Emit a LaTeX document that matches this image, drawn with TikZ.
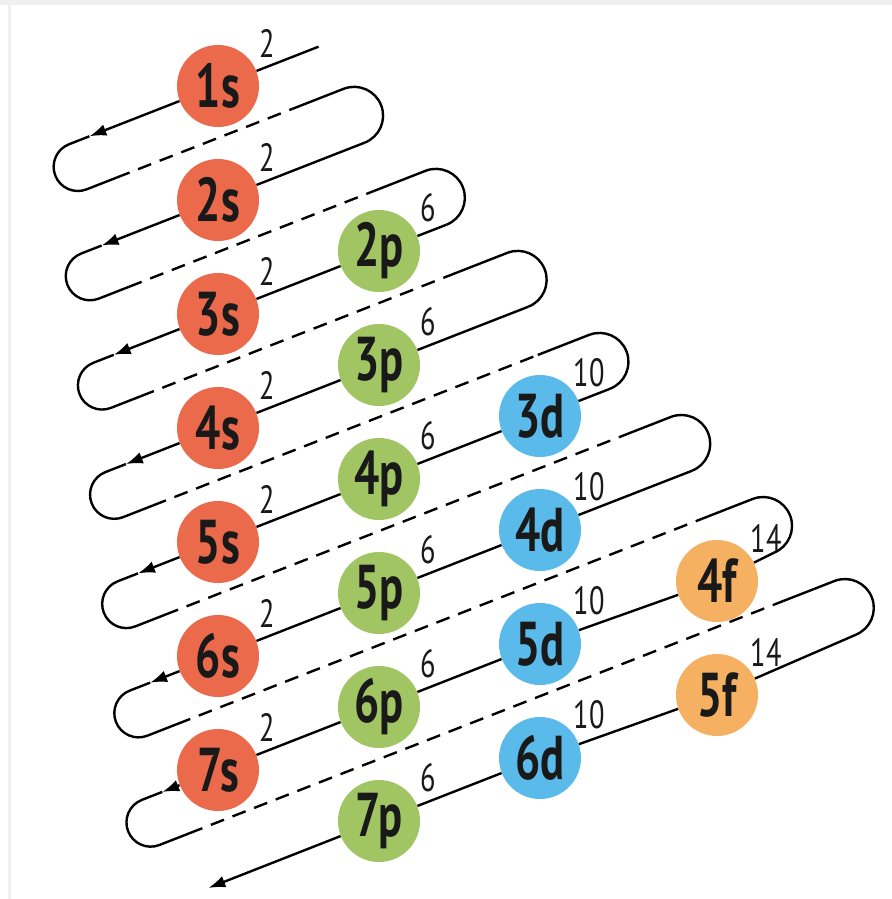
\documentclass[tikz,border=0pt]{standalone}
\usepackage{fontspec}
\usetikzlibrary{arrows.meta}
\newfontfamily\orbfont[FakeStretch=0.72]{PT Sans}
\definecolor{sorb}{HTML}{EC6A4C}
\definecolor{porb}{HTML}{A2C563}
\definecolor{dorb}{HTML}{5ABAE9}
\definecolor{forb}{HTML}{F5B062}

\begin{document}
\begin{tikzpicture}[
    x=0.025cm, y=0.025cm,
    orb/.style={circle, inner sep=0pt, minimum size=2.05cm, text=black!90,
        font=\orbfont\bfseries\fontsize{44}{44}\selectfont},
    occ/.style={anchor=center, label distance=0.6cm, text=black!90,
        font=\orbfont\fontsize{28}{28}\selectfont},
    wire/.style={line width=1.7pt, black},
    dashwire/.style={wire, dash pattern=on 10pt off 6.5pt},
    arrowline/.style={-{Latex[length=12pt,width=8.5pt]}}
]
    \useasboundingbox (0,0) rectangle (892,-899);
    \fill[black!6] (0,0) rectangle (892,-5);
    \fill[black!6] (8,-5) rectangle (11,-899);

    \foreach \nm/\x/\y/\c/\e in {1s/218/86/sorb/2, 2s/218/200/sorb/2, 3s/218/314/sorb/2,
        4s/218/428/sorb/2, 5s/218/542/sorb/2, 6s/218/656/sorb/2, 7s/218/770/sorb/2,
        2p/379/251/porb/6, 3p/379/365/porb/6, 4p/379/479/porb/6, 5p/379/593/porb/6,
        6p/379/707/porb/6, 7p/379/821/porb/6,
        3d/540/416/dorb/10, 4d/540/530/dorb/10, 5d/540/644/dorb/10, 6d/540/758/dorb/10,
        4f/717/581/forb/14, 5f/717/695/forb/14} {
        \node[orb, fill=\c, label={[occ]41:\e}] (\nm) at (\x,-\y) {\nm};
    }

    \begin{scope}[shift={(218,-86)}, rotate=21.36]
        \coordinate (e1) at (108,0);
        \coordinate (e8) at (-301,-743.4);
        \foreach \k in {1,...,7} {
            \pgfmathsetmacro\tline{-106.2*(\k-1)}
            \pgfmathsetmacro\tdash{\tline-48.4}
            \pgfmathsetmacro\tnext{\tline-106.2}
            \pgfmathsetmacro\sleft{-160-28.5*(\k-1)}
            \pgfmathsetmacro\sright{116+46.3*(\k-1)}
            \coordinate (a\k) at (\sleft+22,\tline);
            \coordinate (lt\k) at (\sleft,\tline);
            \coordinate (ds\k) at (\sleft+32,\tdash);
            \coordinate (de\k) at (\sright-55,\tdash);
            \coordinate (rt\k) at (\sright,\tdash);
            \coordinate (rb\k) at (\sright,\tnext);
        }

        \foreach \k in {1,...,7} {
            \draw[wire] (a\k) -- (lt\k) arc[start angle=90, end angle=270, radius=24.2] -- (ds\k);
            \draw[dashwire] (ds\k) -- (de\k);
            \draw[wire] (de\k) -- (rt\k) arc[start angle=90, end angle=-90, radius=28.9];
        }
    \end{scope}

    \draw[wire, arrowline] (e1) -- (1s) -- (a1);
    \draw[wire, arrowline] (rb1) -- (2s) -- (a2);
    \draw[wire, arrowline] (rb2) -- (2p) -- (3s) -- (a3);
    \draw[wire, arrowline] (rb3) -- (3p) -- (4s) -- (a4);
    \draw[wire, arrowline] (rb4) -- (3d) -- (4p) -- (5s) -- (a5);
    \draw[wire, arrowline] (rb5) -- (4d) -- (5p) -- (6s) -- (a6);
    \draw[wire, arrowline] (rb6) -- (4f) -- (5d) -- (6p) -- (7s) -- (a7);
    \draw[wire, arrowline] (rb7) -- (5f) -- (6d) -- (7p) -- (e8);
\end{tikzpicture}
\end{document}
